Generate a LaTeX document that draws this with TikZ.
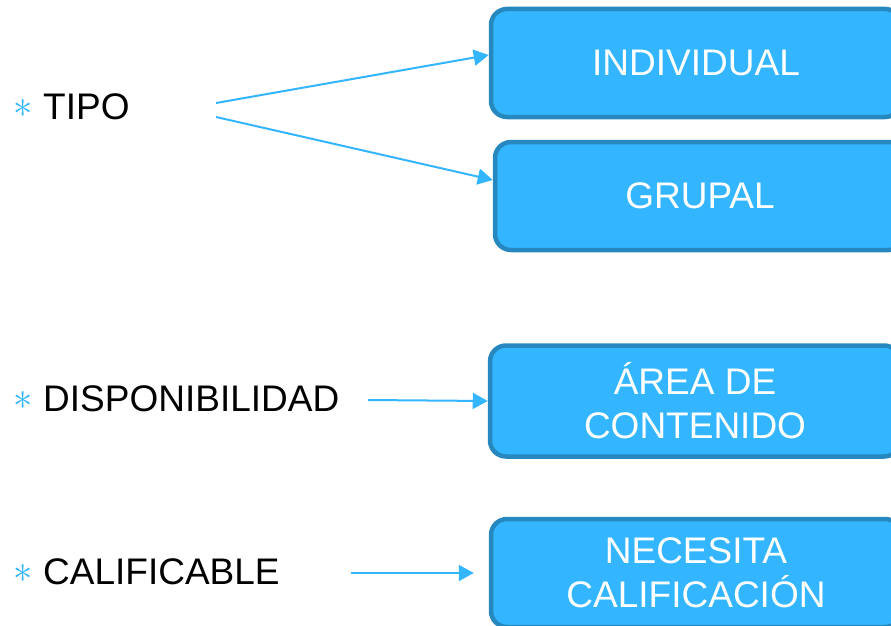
\documentclass[tikz,border=0pt]{standalone}
\usepackage{fontspec}
\usepackage{graphicx}
\setmainfont{Liberation Sans}
\usetikzlibrary{calc,arrows.meta}
\definecolor{boxfill}{HTML}{33B6FF}
\definecolor{boxline}{HTML}{2688BE}
\definecolor{arrowc}{HTML}{33B6FF}
\tikzset{
  item/.style={anchor=base west, text=black, font=\fontsize{37}{44}\selectfont, inner sep=0pt},
  bul/.style={text=arrowc, font=\fontsize{24}{24}\selectfont, inner sep=0pt},
  card/.style={draw=boxline, fill=boxfill, line width=4.5pt, rounded corners=16pt,
    minimum width=410pt, minimum height=108pt, text=white, align=center,
    font=\fontsize{37}{44}\selectfont, inner sep=0pt},
  link/.style={draw=arrowc, line width=2pt, -{Triangle[length=15pt,width=16pt]}},
}
\newcommand{\bstar}{\scalebox{1.55}{$\ast$}}

\begin{document}
\begin{tikzpicture}[x=1pt,y=-1pt]
  \useasboundingbox (0,0) rectangle (891,626);
  \clip (0,0) rectangle (891,626);

  % left column
  \node[bul] (b1) at (23.5,109) {\bstar};
  \node[bul] (b2) at (23.5,401) {\bstar};
  \node[bul] (b3) at (23.5,574) {\bstar};
  \node[item] (tipo) at (43,119) {TIPO};
  \node[item] (disp) at (43,411) {DISPONIBILIDAD};
  \node[item] (calif) at (43,584) {CALIFICABLE};

  % boxes
  \node[card] (indiv) at (696,63) {INDIVIDUAL};
  \node[card] (grupal) at (700,196) {GRUPAL};
  \node[card, minimum height=111pt] (area) at (695,401) {ÁREA DE\\CONTENIDO};
  \node[card] (necesita) at (696,573) {NECESITA\\CALIFICACIÓN};

  \coordinate (t1) at (216,103);
  \coordinate (t2) at (216,117);
  \coordinate (d1) at (368,400);
  \coordinate (c1) at (351,573);

  \draw[link] (t1) -- ($(indiv.west)+(0,-8)$);
  \draw[link] (t2) -- ($(grupal.west)+(0,-16)$);
  \draw[link] (d1) -- (area.west);
  \draw[link, shorten >=15pt] (c1) -- (necesita.west);
\end{tikzpicture}
\end{document}
